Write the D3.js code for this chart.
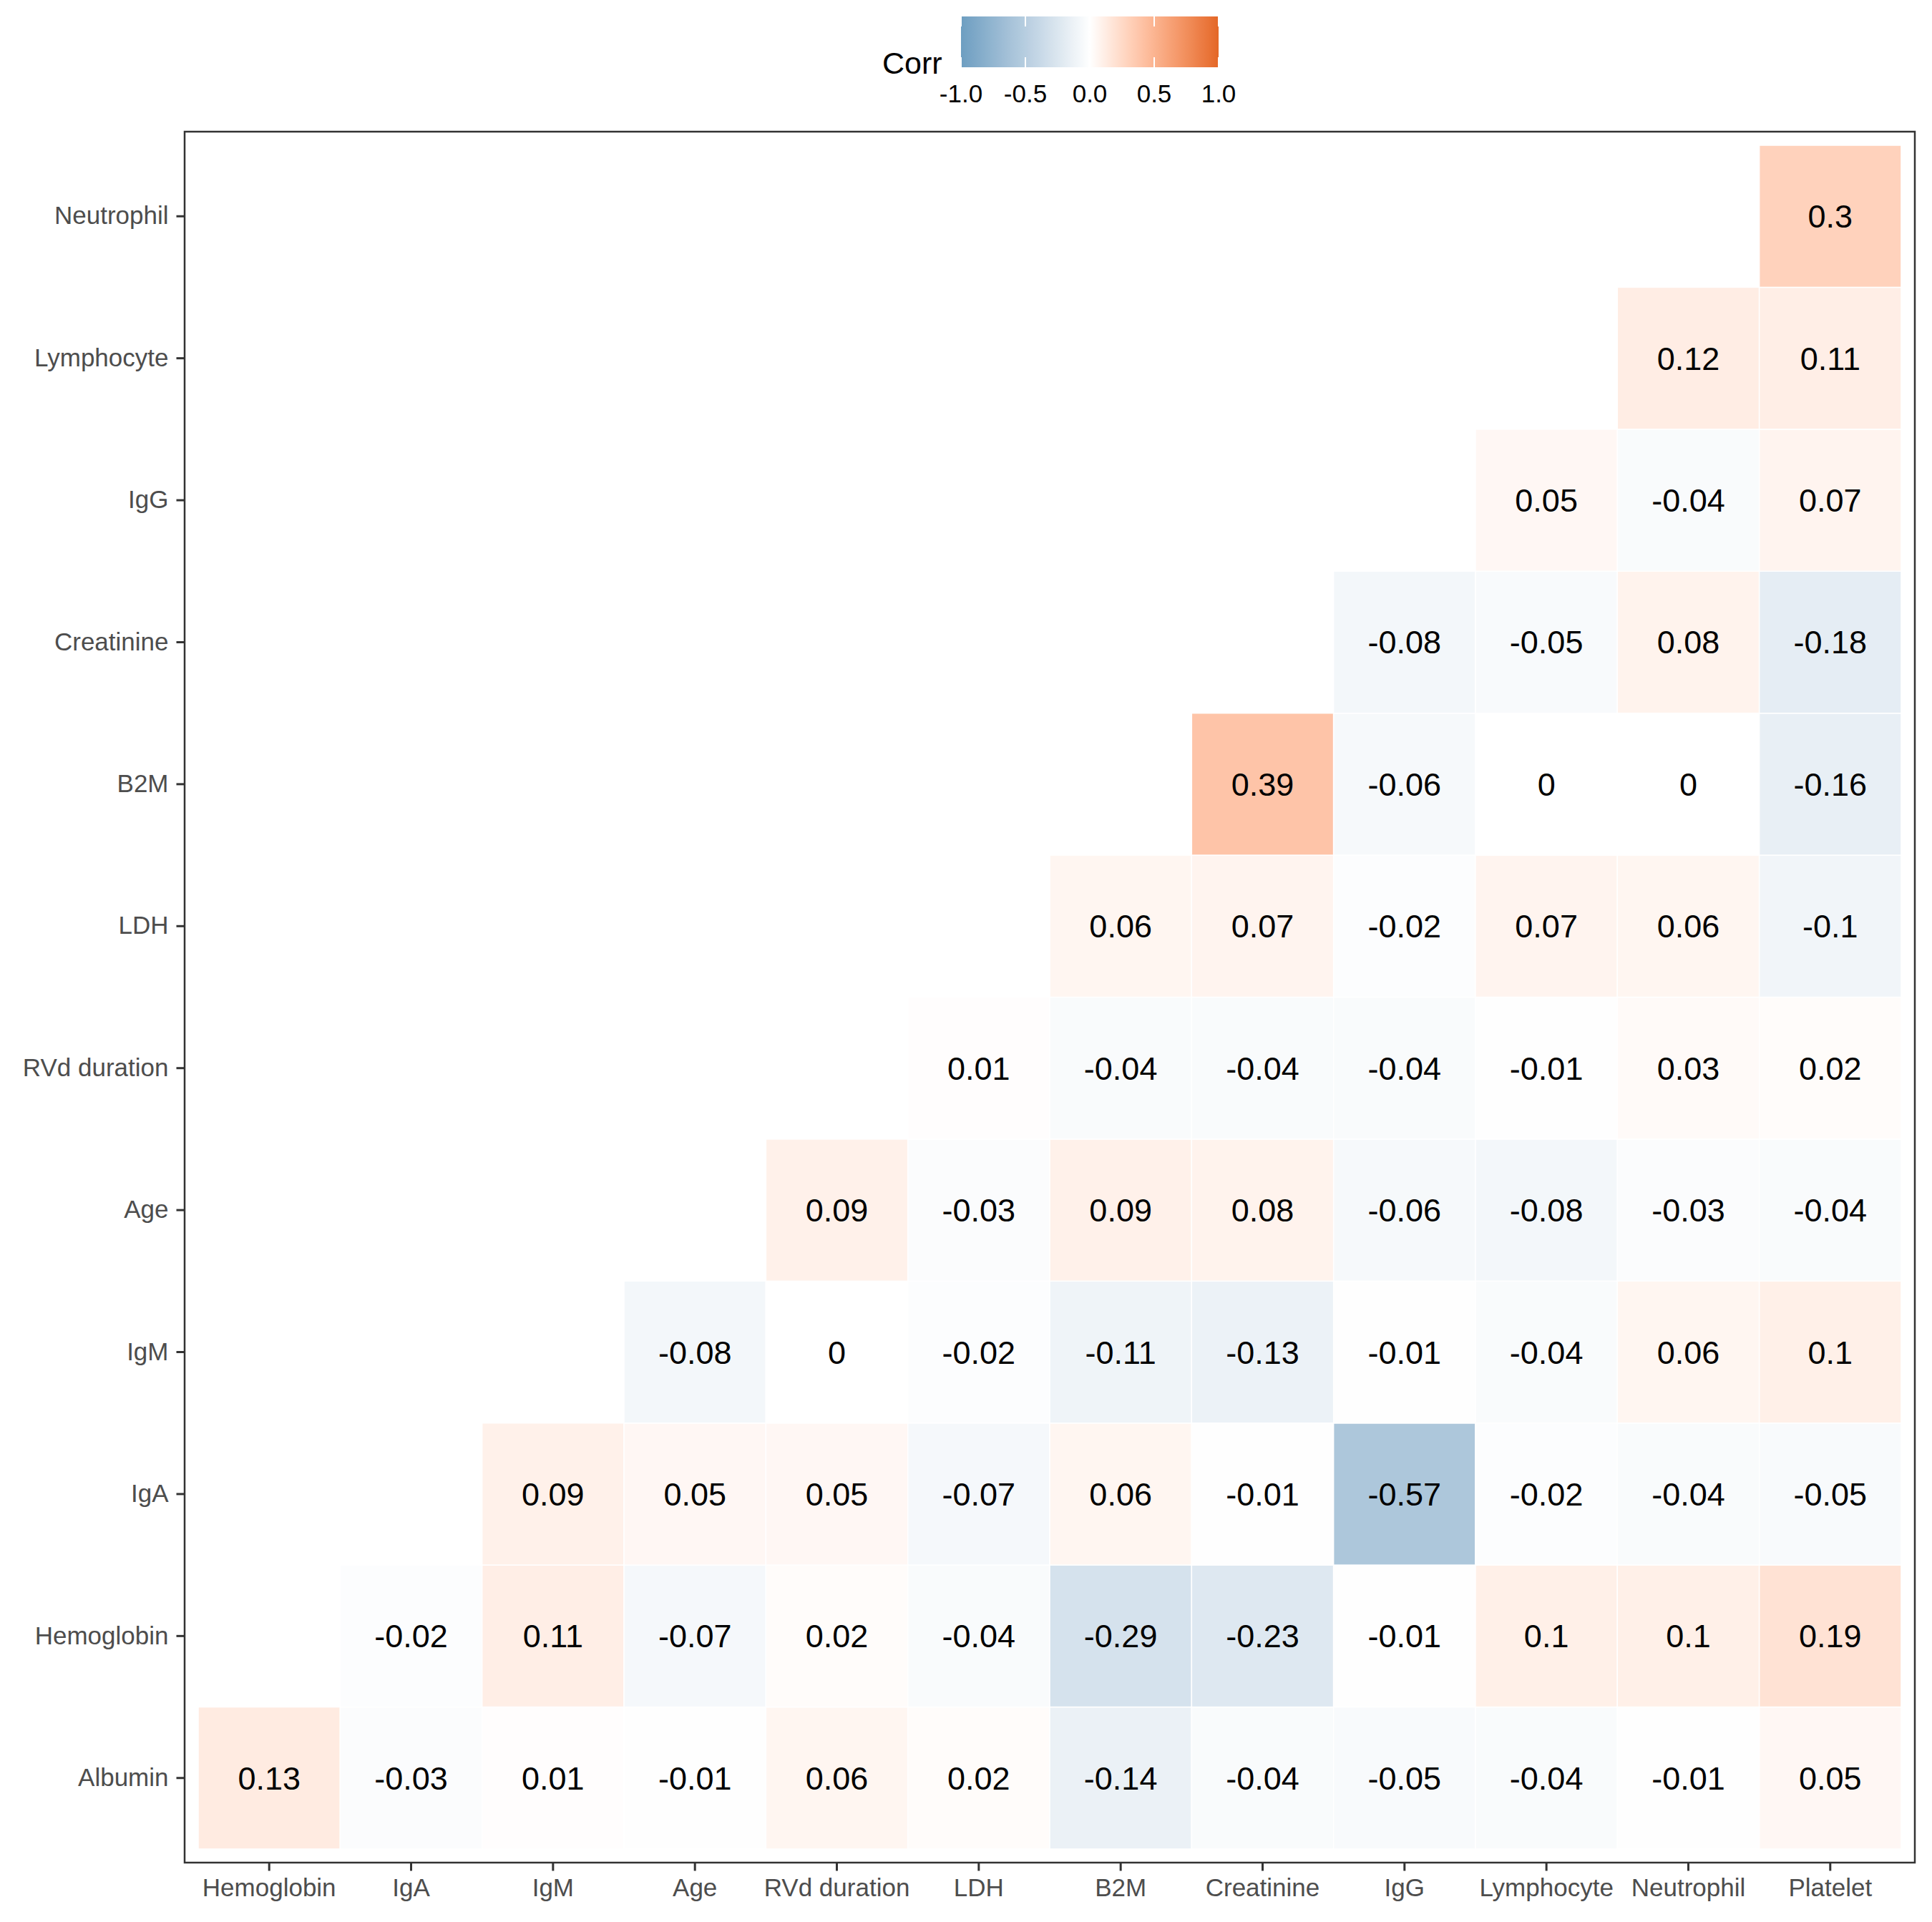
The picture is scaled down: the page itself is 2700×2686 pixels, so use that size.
<!DOCTYPE html>
<html><head><meta charset="utf-8">
<script src="https://cdn.jsdelivr.net/npm/d3@7"></script>
<style>body{margin:0;background:#fff}text{font-family:"Liberation Sans",Arial,Helvetica,sans-serif}</style>
</head><body>
<svg id="c" width="2700" height="2686" xmlns="http://www.w3.org/2000/svg"></svg>
<script>
// Column (x) and row (y, bottom to top) labels
const xLabels = ["Hemoglobin","IgA","IgM","Age","RVd duration","LDH","B2M","Creatinine","IgG","Lymphocyte","Neutrophil","Platelet"];
const yLabels = ["Albumin","Hemoglobin","IgA","IgM","Age","RVd duration","LDH","B2M","Creatinine","IgG","Lymphocyte","Neutrophil"];
// Each row lists values for the right-most columns (row i starts at column i)
const rowAlbumin    = [0.13,-0.03,0.01,-0.01,0.06,0.02,-0.14,-0.04,-0.05,-0.04,-0.01,0.05];
const rowHemoglobin = [-0.02,0.11,-0.07,0.02,-0.04,-0.29,-0.23,-0.01,0.1,0.1,0.19];
const rowIgA        = [0.09,0.05,0.05,-0.07,0.06,-0.01,-0.57,-0.02,-0.04,-0.05];
const rowIgM        = [-0.08,0,-0.02,-0.11,-0.13,-0.01,-0.04,0.06,0.1];
const rowAge        = [0.09,-0.03,0.09,0.08,-0.06,-0.08,-0.03,-0.04];
const rowRVd        = [0.01,-0.04,-0.04,-0.04,-0.01,0.03,0.02];
const rowLDH        = [0.06,0.07,-0.02,0.07,0.06,-0.1];
const rowB2M        = [0.39,-0.06,0,0,-0.16];
const rowCreatinine = [-0.08,-0.05,0.08,-0.18];
const rowIgG        = [0.05,-0.04,0.07];
const rowLymphocyte = [0.12,0.11];
const rowNeutrophil = [0.3];
const legendTicks = [-1,-0.5,0,0.5,1];
const legendTitle = "Corr";

const rows = [rowAlbumin,rowHemoglobin,rowIgA,rowIgM,rowAge,rowRVd,rowLDH,rowB2M,rowCreatinine,rowIgG,rowLymphocyte,rowNeutrophil];
const cells = [];
rows.forEach((vals,i)=>vals.forEach((v,j)=>cells.push({row:yLabels[i],col:xLabels[i+j],v})));

const svg = d3.select("#c");
const L=258,R=2676,T=184,B=2603;
const x = d3.scaleBand().domain(xLabels).range([L,R]).paddingInner(0).paddingOuter(0.096);
const y = d3.scaleBand().domain(yLabels.slice().reverse()).range([T,B]).paddingInner(0).paddingOuter(0.096);
const color = d3.scaleLinear().domain([-1,0,1]).range(["#6D9EC1","#FFFFFF","#E46726"]).interpolate(d3.interpolateLab);

svg.append("rect").attr("x",0).attr("y",0).attr("width",2700).attr("height",2686).attr("fill","#fff");

// tiles
svg.append("g").selectAll("rect").data(cells).join("rect")
  .attr("x",d=>x(d.col)).attr("y",d=>y(d.row))
  .attr("width",x.bandwidth()).attr("height",y.bandwidth())
  .attr("fill",d=>color(d.v)).attr("stroke","#fff").attr("stroke-width",1.5);

// labels
svg.append("g").selectAll("text").data(cells).join("text")
  .attr("x",d=>x(d.col)+x.bandwidth()/2)
  .attr("y",d=>y(d.row)+y.bandwidth()/2+16)
  .attr("text-anchor","middle").attr("font-size",45).attr("fill","#000")
  .text(d=>String(d.v));

// axes
const ax = svg.append("g").attr("transform",`translate(${L},0)`)
  .call(d3.axisLeft(y).tickSize(11.5).tickPadding(11));
const bx = svg.append("g").attr("transform",`translate(0,${B})`)
  .call(d3.axisBottom(x).tickSize(11.5).tickPadding(10.5));
[ax,bx].forEach(g=>{
  g.select(".domain").remove();
  g.selectAll(".tick line").attr("stroke","#333333").attr("stroke-width",3);
  g.selectAll(".tick text").attr("font-size",35).attr("fill","#4D4D4D")
    .style("font-family",'"Liberation Sans",Arial,Helvetica,sans-serif');
});

// panel border
svg.append("rect").attr("x",L).attr("y",T).attr("width",R-L).attr("height",B-T)
  .attr("fill","none").attr("stroke","#333333").attr("stroke-width",2.5);

// legend
const lx = d3.scaleLinear().domain([-1,1]).range([1343,1703]);
const defs = svg.append("defs");
const grad = defs.append("linearGradient").attr("id","g").attr("x1","0%").attr("x2","100%").attr("y1","0%").attr("y2","0%");
d3.range(0,1.0001,0.02).forEach(t=>grad.append("stop").attr("offset",(t*100)+"%").attr("stop-color",color(-1+2*t)));
const lg = svg.append("g");
lg.append("rect").attr("x",lx(-1)).attr("y",23).attr("width",lx(1)-lx(-1)).attr("height",71).attr("fill","url(#g)");
lg.selectAll("line.t1").data(legendTicks).join("line").attr("class","t1")
  .attr("x1",d=>lx(d)).attr("x2",d=>lx(d)).attr("y1",23).attr("y2",37).attr("stroke","#fff").attr("stroke-width",2);
lg.selectAll("line.t2").data(legendTicks).join("line").attr("class","t2")
  .attr("x1",d=>lx(d)).attr("x2",d=>lx(d)).attr("y1",80).attr("y2",94).attr("stroke","#fff").attr("stroke-width",2);
lg.selectAll("text.lab").data(legendTicks).join("text").attr("class","lab")
  .attr("x",d=>lx(d)).attr("y",143).attr("text-anchor","middle").attr("font-size",35).attr("fill","#000")
  .text(d=>d3.format(".1f")(d).replace("−","-"));
lg.append("text").attr("x",1233).attr("y",103).attr("font-size",43).attr("fill","#000").text(legendTitle);
</script>
</body></html>
